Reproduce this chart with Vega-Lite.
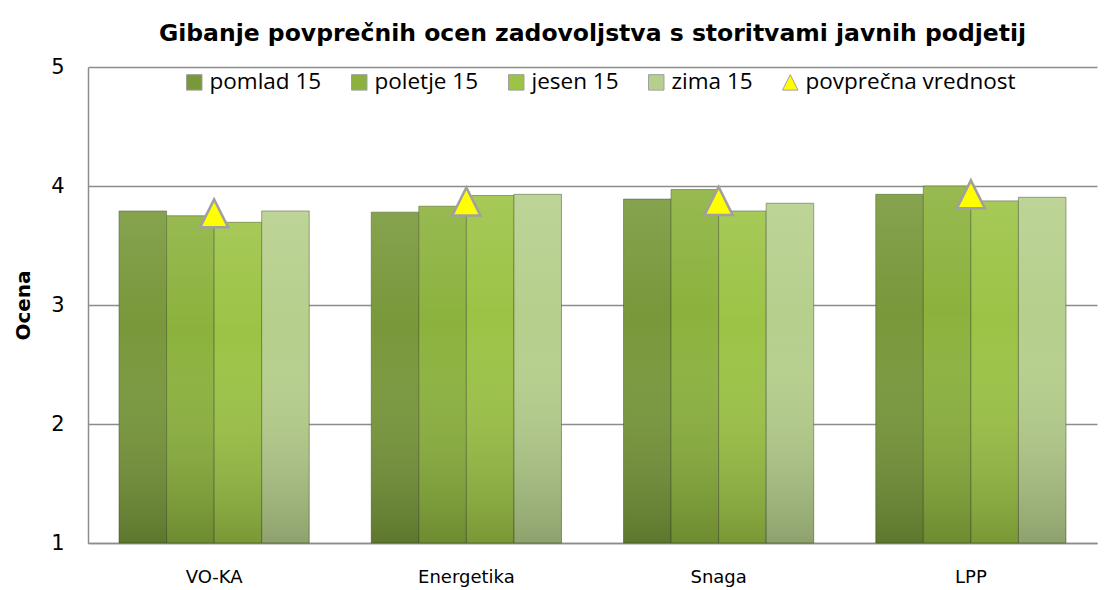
{
  "$schema": "https://vega.github.io/schema/vega-lite/v6.json",
  "width": 1009,
  "height": 476,
  "autosize": {"type": "none"},
  "padding": {"left": 88, "top": 67, "right": 12, "bottom": 47},
  "background": "white",
  "title": {
    "text": "Gibanje povprečnih ocen zadovoljstva s storitvami javnih podjetij",
    "font": "DejaVu Sans",
    "fontSize": 23.5,
    "fontWeight": "bold",
    "color": "#000000",
    "anchor": "middle",
    "offset": 11
  },
  "config": {
    "view": {"stroke": null},
    "axis": {
      "labelFont": "DejaVu Sans",
      "labelColor": "#000000",
      "domainColor": "#8c8c8c",
      "domainWidth": 1.5,
      "gridColor": "#8c8c8c",
      "gridWidth": 1.5,
      "ticks": false
    }
  },
  "datasets": {
    "bars": [
      {"podjetje": "VO-KA", "obdobje": "pomlad 15", "ocena": 3.79},
      {"podjetje": "VO-KA", "obdobje": "poletje 15", "ocena": 3.75},
      {"podjetje": "VO-KA", "obdobje": "jesen 15", "ocena": 3.695},
      {"podjetje": "VO-KA", "obdobje": "zima 15", "ocena": 3.79},
      {"podjetje": "Energetika", "obdobje": "pomlad 15", "ocena": 3.78},
      {"podjetje": "Energetika", "obdobje": "poletje 15", "ocena": 3.83},
      {"podjetje": "Energetika", "obdobje": "jesen 15", "ocena": 3.92},
      {"podjetje": "Energetika", "obdobje": "zima 15", "ocena": 3.93},
      {"podjetje": "Snaga", "obdobje": "pomlad 15", "ocena": 3.89},
      {"podjetje": "Snaga", "obdobje": "poletje 15", "ocena": 3.97},
      {"podjetje": "Snaga", "obdobje": "jesen 15", "ocena": 3.79},
      {"podjetje": "Snaga", "obdobje": "zima 15", "ocena": 3.855},
      {"podjetje": "LPP", "obdobje": "pomlad 15", "ocena": 3.93},
      {"podjetje": "LPP", "obdobje": "poletje 15", "ocena": 4.0},
      {"podjetje": "LPP", "obdobje": "jesen 15", "ocena": 3.875},
      {"podjetje": "LPP", "obdobje": "zima 15", "ocena": 3.905}
    ],
    "avg": [
      {"podjetje": "VO-KA", "obdobje": "povprečna vrednost", "ocena": 3.77},
      {"podjetje": "Energetika", "obdobje": "povprečna vrednost", "ocena": 3.87},
      {"podjetje": "Snaga", "obdobje": "povprečna vrednost", "ocena": 3.875},
      {"podjetje": "LPP", "obdobje": "povprečna vrednost", "ocena": 3.93}
    ]
  },
  "encoding": {
    "x": {
      "field": "podjetje",
      "type": "nominal",
      "sort": ["VO-KA", "Energetika", "Snaga", "LPP"],
      "scale": {"paddingInner": 0.246, "paddingOuter": 0.123},
      "axis": {
        "title": null,
        "labelAngle": 0,
        "labelFontSize": 18,
        "labelPadding": 25,
        "grid": false
      }
    },
    "y": {
      "field": "ocena",
      "type": "quantitative",
      "scale": {"domain": [1, 5], "zero": false, "nice": false},
      "axis": {
        "values": [1, 2, 3, 4, 5],
        "grid": true,
        "labelFontSize": 21,
        "labelPadding": 24,
        "title": "Ocena",
        "titleFont": "DejaVu Sans",
        "titleFontSize": 20,
        "titleFontWeight": "bold",
        "titleColor": "#000000",
        "titlePadding": 17
      }
    }
  },
  "layer": [
    {
      "data": {"name": "bars"},
      "mark": {"type": "bar", "stroke": "#3f5220", "strokeWidth": 1, "strokeOpacity": 0.5},
      "encoding": {
        "xOffset": {
          "field": "obdobje",
          "type": "nominal",
          "sort": ["pomlad 15", "poletje 15", "jesen 15", "zima 15"],
          "scale": {"paddingInner": 0, "paddingOuter": 0}
        },
        "y2": {"datum": 1},
        "color": {
          "field": "obdobje",
          "type": "nominal",
          "scale": {
            "domain": ["pomlad 15", "poletje 15", "jesen 15", "zima 15", "povprečna vrednost"],
            "range": ["#78983a", "#8cb23d", "#9cc345", "#b6cf8c", "#ffff00"]
          },
          "legend": {
            "orient": "none",
            "legendX": 95,
            "legendY": 4,
            "direction": "horizontal",
            "title": null,
            "labelFont": "Open Sans",
            "labelFontSize": 22.5,
            "labelColor": "#000000",
            "labelOffset": 4,
            "labelLimit": 400,
            "columnPadding": 26,
            "symbolSize": 240,
            "symbolStrokeColor": "#8c8c8c",
            "symbolStrokeWidth": 1
          }
        }
      }
    },
    {
      "data": {"name": "bars"},
      "mark": {
        "type": "bar",
        "fill": {
          "gradient": "linear",
          "x1": 0, "y1": 0, "x2": 0, "y2": 1,
          "stops": [
            {"offset": 0, "color": "rgba(255,255,255,0.1)"},
            {"offset": 0.35, "color": "rgba(255,255,255,0)"},
            {"offset": 1, "color": "rgba(0,0,0,0.22)"}
          ]
        }
      },
      "encoding": {
        "xOffset": {
          "field": "obdobje",
          "type": "nominal",
          "sort": ["pomlad 15", "poletje 15", "jesen 15", "zima 15"]
        },
        "y2": {"datum": 1}
      }
    },
    {
      "data": {"name": "avg"},
      "mark": {"type": "point", "filled": true, "opacity": 1, "stroke": "#a0a0a0", "strokeWidth": 2.5, "size": 784},
      "encoding": {
        "color": {"field": "obdobje", "type": "nominal"},
        "shape": {
          "field": "obdobje",
          "type": "nominal",
          "scale": {
            "domain": ["pomlad 15", "poletje 15", "jesen 15", "zima 15", "povprečna vrednost"],
            "range": ["square", "square", "square", "square", "M0,-1L1,1L-1,1Z"]
          }
        }
      }
    }
  ]
}
